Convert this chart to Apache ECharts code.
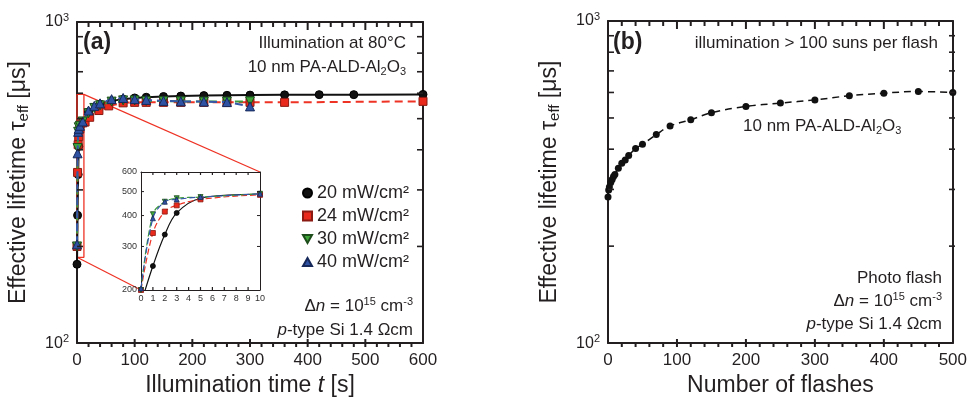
<!DOCTYPE html>
<html><head><meta charset="utf-8">
<script src="https://cdn.jsdelivr.net/npm/echarts@6/dist/echarts.min.js"></script>
<style>html,body{margin:0;padding:0;background:#fff}#c{width:970px;height:402px}</style>
</head><body><div id="c"></div>
<script>
const FONT = '"Liberation Sans", Arial, Helvetica, sans-serif';
const INK = '#231f20';

// ---------- Panel (a): illumination time series ----------
const seriesNames = ['20 mW/cm²', '24 mW/cm²', '30 mW/cm²', '40 mW/cm²'];
const tBlack = [0, 1, 2, 3, 5, 10, 20, 40, 60, 80, 100, 120, 150, 180, 220, 260, 300, 360, 420, 480, 600];
const tau20  = [176, 250, 335, 410, 470, 490, 525, 555, 568, 575, 580, 583, 586, 588, 590, 591, 592, 593, 594, 594, 595];
const tRed   = [0, 1, 2, 3, 5, 10, 14, 22, 38, 55, 80, 100, 120, 150, 180, 220, 260, 300, 360, 600];
const tau24  = [200, 340, 415, 440, 465, 485, 488, 505, 530, 548, 560, 562, 562, 562, 562, 562, 562, 562, 562, 566];
const tGB    = [0, 1, 2, 3, 5, 10, 20, 30, 40, 60, 80, 100, 120, 150, 180, 220, 260, 300];
const tau30  = [200, 405, 455, 470, 475, 490, 520, 540, 550, 565, 570, 570, 568, 567, 566, 565, 565, 566];
const tau40  = [203, 390, 455, 465, 475, 490, 530, 548, 558, 575, 580, 575, 572, 568, 566, 565, 563, 546];
const insetCount = 6; // points with t <= 10 s shown in the inset
const zoomT   = [0, 12];
const zoomTau = [185, 595];

// ---------- Panel (b): flashes ----------
const nFlash   = [0, 1, 2, 4, 6, 8, 10, 15, 20, 25, 30, 40, 50, 70, 90, 120, 150, 200, 250, 300, 350, 400, 450, 500];
const tauFlash = [284, 299, 305, 315, 322, 329, 334, 349, 362, 370, 382, 402, 414, 444, 472, 494, 519, 543, 556, 569, 586, 597, 604, 600];

// ---------- ticks ----------
const logTicks = [200, 300, 400, 500, 600, 700, 800, 900];
const insetTicks = [200, 300, 400, 500, 600];

// ---------- layout ----------
const GRID_A = { left: 77, top: 22, width: 346, height: 325 };
const GRID_I = { left: 141, top: 172, width: 119, height: 118 };
const GRID_B = { left: 608, top: 21, width: 347, height: 326 };

const zip = (xs, ys) => xs.map((x, i) => [x, ys[i]]);
function steps(from, to, step, skip) {
  const r = [];
  for (let v = from; v <= to + 1e-9; v += step) {
    if (!skip || Math.abs(v / skip - Math.round(v / skip)) > 1e-9) r.push(v);
  }
  return r;
}

const powLabel = v => {
  const e = Math.round(Math.log10(v));
  return '{b|10}{s|' + e + '}';
};
const powRich = {
  b: { fontSize: 16, fontFamily: FONT, color: INK },
  s: { fontSize: 11, fontFamily: FONT, color: INK, padding: [0, 0, 8, 0] }
};

function xAxisMain(gi, max, name, top) {
  return {
    type: 'value', gridIndex: gi, min: 0, max: max, interval: 100,
    position: top ? 'top' : 'bottom',
    axisLine: { show: true, onZero: false, lineStyle: { color: INK, width: 2 } },
    axisTick: { show: false },
    minorTick: { show: false },
    axisLabel: { show: !top, fontSize: 17, fontFamily: FONT, color: INK, margin: 9 },
    splitLine: { show: false },
    name: top ? '' : name, nameLocation: 'middle', nameGap: 30,
    nameTextStyle: { fontSize: 23, fontFamily: FONT, color: INK,
      rich: { i: { fontSize: 23, fontFamily: FONT, fontStyle: 'italic', color: INK } } }
  };
}
function yAxisMain(gi, right, withName) {
  return {
    type: 'log', logBase: 10, gridIndex: gi, min: 100, max: 1000,
    position: right ? 'right' : 'left',
    axisLine: { show: true, onZero: false, lineStyle: { color: INK, width: 2 } },
    axisTick: { show: false },
    axisLabel: { show: !right, formatter: powLabel, rich: powRich, margin: 8 },
    splitLine: { show: false },
    name: withName ? 'Effective lifetime τ{sub|eff} [μs]' : '',
    nameLocation: 'middle', nameGap: 46, nameRotate: 90,
    nameTextStyle: { fontSize: 23, fontFamily: FONT, color: INK,
      rich: { sub: { fontSize: 15, fontFamily: FONT, color: INK, padding: [10, 0, 0, 0] } } }
  };
}

const lineCommon = { type: 'line', animation: false, z: 3 };
const styles = [
  { color: '#111', border: '#000', symbol: 'circle', size: 8, rot: 0, dash: 'solid', lc: '#111' },
  { color: '#e8291c', border: '#8a1a12', symbol: 'rect', size: 8, rot: 0, dash: [8, 5], lc: '#ee3224' },
  { color: '#3fa63a', border: '#1c4d1a', symbol: 'triangle', size: 9, rot: 180, dash: [8, 5], lc: '#3a9a3a' },
  { color: '#2f52a3', border: '#16285a', symbol: 'triangle', size: 9, rot: 0, dash: [8, 5], lc: '#3457a8' }
];
const mainData = [zip(tBlack, tau20), zip(tRed, tau24), zip(tGB, tau30), zip(tGB, tau40)];

const series = [];
series.push(Object.assign({}, lineCommon, {
  xAxisIndex: 0, yAxisIndex: 0, symbol: 'none', silent: true, z: 2,
  data: [[zoomT[0], zoomTau[0]], [zoomT[1], zoomTau[0]], [zoomT[1], zoomTau[1]], [zoomT[0], zoomTau[1]], [zoomT[0], zoomTau[0]]],
  lineStyle: { color: '#ee3224', width: 1.3 }
}));
mainData.forEach((d, i) => {
  const s = styles[i];
  series.push(Object.assign({}, lineCommon, {
    name: seriesNames[i], xAxisIndex: 0, yAxisIndex: 0, data: d,
    symbol: s.symbol, symbolSize: s.size, symbolRotate: s.rot, z: 3 + i,
    itemStyle: { color: s.color, borderColor: s.border, borderWidth: 1 },
    lineStyle: { color: s.lc, width: 2, type: s.dash }
  }));
});
mainData.forEach((d, i) => {
  const s = styles[i];
  series.push(Object.assign({}, lineCommon, {
    name: seriesNames[i], xAxisIndex: 2, yAxisIndex: 2, data: d.slice(0, insetCount + 1),
    symbol: s.symbol, symbolSize: 5, symbolRotate: s.rot, smooth: 0.35, z: 10 + i,
    itemStyle: { color: s.color, borderColor: s.border, borderWidth: 0.8 },
    lineStyle: { color: s.lc, width: 1.2, type: i === 0 ? 'solid' : [6, 3] }
  }));
});
series.push(Object.assign({}, lineCommon, {
  name: 'flash', xAxisIndex: 4, yAxisIndex: 4, data: zip(nFlash, tauFlash),
  symbol: 'circle', symbolSize: 7, smooth: 0.4,
  itemStyle: { color: '#111' },
  lineStyle: { color: '#111', width: 1.5, type: [7, 5] }
}));

const insetAxisCommon = {
  axisLine: { show: true, onZero: false, lineStyle: { color: INK, width: 1 } },
  axisTick: { show: false },
  splitLine: { show: false }
};

const option = {
  animation: false,
  backgroundColor: '#fff',
  textStyle: { fontFamily: FONT },
  grid: [
    Object.assign({}, GRID_A),
    Object.assign({ show: true, backgroundColor: '#fff', borderWidth: 0, z: 5 }, GRID_I),
    Object.assign({}, GRID_B)
  ],
  xAxis: [
    xAxisMain(0, 600, 'Illumination time {i|t} [s]', false),
    xAxisMain(0, 600, '', true),
    Object.assign({}, insetAxisCommon, { type: 'value', gridIndex: 1, min: 0, max: 10, interval: 1, position: 'bottom', z: 6,
      axisLabel: { fontSize: 9, fontFamily: FONT, color: '#333', margin: 4 } }),
    Object.assign({}, insetAxisCommon, { type: 'value', gridIndex: 1, min: 0, max: 10, interval: 1, position: 'top', z: 6,
      axisLabel: { show: false } }),
    xAxisMain(2, 500, 'Number of flashes', false),
    xAxisMain(2, 500, '', true)
  ],
  yAxis: [
    yAxisMain(0, false, true),
    yAxisMain(0, true, false),
    Object.assign({}, insetAxisCommon, { type: 'log', logBase: 10, gridIndex: 1, min: 200, max: 600, position: 'left', z: 6,
      axisLabel: { customValues: insetTicks, fontSize: 9, fontFamily: FONT, color: '#333', margin: 4 } }),
    Object.assign({}, insetAxisCommon, { type: 'log', logBase: 10, gridIndex: 1, min: 200, max: 600, position: 'right', z: 6,
      axisLabel: { show: false } }),
    yAxisMain(2, false, true),
    yAxisMain(2, true, false)
  ],
  legend: {
    orient: 'vertical', left: 297, top: 179, itemWidth: 9, itemHeight: 9, itemGap: 5,
    textStyle: { fontSize: 18, lineHeight: 18, fontFamily: FONT, color: INK },
    selectedMode: false,
    data: [
      { name: seriesNames[0], icon: 'circle' },
      { name: seriesNames[1], icon: 'rect' },
      { name: seriesNames[2], icon: 'path://M0,0 L10,0 L5,9 Z' },
      { name: seriesNames[3], icon: 'path://M5,0 L10,9 L0,9 Z' }
    ]
  },
  series: series
};

const chart = echarts.init(document.getElementById('c'), null, { renderer: 'canvas' });
chart.setOption(option);

const txtRich = {
  i: { fontSize: 17, fontFamily: FONT, fontStyle: 'italic', fill: INK, color: INK },
  sup: { fontSize: 11, fontFamily: FONT, fill: INK, color: INK, padding: [0, 0, 9, 0] },
  sub: { fontSize: 11, fontFamily: FONT, fill: INK, color: INK, padding: [9, 0, 0, 0] },
  n: { fontSize: 17, fontFamily: FONT, fill: INK, color: INK }
};
function txt(x, y, text, align, opts) {
  return {
    type: 'text', x: x, y: y, z: 50,
    style: Object.assign({ text: text, fill: INK, fontSize: 17, fontFamily: FONT, align: align || 'right', verticalAlign: 'middle', rich: txtRich }, (opts || {}))
  };
}
const al2o3 = '{n|10 nm PA-ALD-Al}{sub|2}{n|O}{sub|3}';
const dn = '{n|Δ}{i|n}{n| = 10}{sup|15}{n| cm}{sup|-3}';
const ptype = '{i|p}{n|-type Si 1.4 Ωcm}';

const px = (xi, yi, pt) => chart.convertToPixel({ xAxisIndex: xi, yAxisIndex: yi }, pt);
const p1 = px(0, 0, [zoomT[1], zoomTau[1]]);
const p2 = px(2, 2, [10, 600]);
const p3 = px(0, 0, [zoomT[0], zoomTau[0]]);
const p4 = px(2, 2, [0, 200]);

function bar(x, y, w, h, z) {
  return { type: 'rect', z: z, zlevel: 0, silent: true, shape: { x: x, y: y, width: w, height: h }, style: { fill: INK, stroke: null } };
}
// inward y-axis ticks, placed through the axes' own scales
function yTicks(xi, yi, g, vals, len, w, z) {
  const out = [];
  vals.forEach(v => {
    const y = px(xi, yi, [1, v])[1];
    out.push(bar(g.left, y - w / 2, len, w, z));
    out.push(bar(g.left + g.width - len, y - w / 2, len, w, z));
  });
  return out;
}
// inward x-axis ticks (bottom and top), x placed through the x axis scale
function xTicks(xi, g, xmax, vals, len, w, z) {
  const out = [];
  vals.forEach(v => {
    let x = chart.convertToPixel({ xAxisIndex: xi }, v);
    if (Array.isArray(x)) x = x[0];
    if (typeof x !== 'number' || !isFinite(x)) x = g.left + g.width * v / xmax;
    out.push(bar(x - w / 2, g.top + g.height - len, w, len, z));
    out.push(bar(x - w / 2, g.top, w, len, z));
  });
  return out;
}

chart.setOption({
  graphic: [
    txt(83, 43, '(a)', 'left', { fontSize: 23, fontWeight: 'bold' }),
    txt(406, 43, 'Illumination at 80°C'),
    txt(406, 67, al2o3),
    txt(413, 306, dn),
    txt(413, 330, ptype),
    txt(613, 43, '(b)', 'left', { fontSize: 23, fontWeight: 'bold' }),
    txt(938, 43, 'illumination > 100 suns per flash'),
    txt(743, 126, al2o3, 'left'),
    txt(942, 278, 'Photo flash'),
    txt(942, 301, dn),
    txt(942, 324, ptype),
    { type: 'line', z: 1, silent: true, shape: { x1: p1[0], y1: p1[1], x2: p2[0], y2: p2[1] }, style: { stroke: '#ee3224', lineWidth: 1.2 } },
    { type: 'line', z: 1, silent: true, shape: { x1: p3[0], y1: p3[1], x2: p4[0], y2: p4[1] }, style: { stroke: '#ee3224', lineWidth: 1.2 } }
  ]
  .concat(yTicks(0, 0, GRID_A, logTicks, 6, 1.6, 20))
  .concat(yTicks(4, 4, GRID_B, logTicks, 6, 1.6, 20))
  .concat(yTicks(2, 2, GRID_I, insetTicks.slice(1, -1), 3, 1, 60))
  .concat(xTicks(0, GRID_A, 600, steps(100, 500, 100), 8, 2, 20))
  .concat(xTicks(0, GRID_A, 600, steps(20, 580, 20, 100), 5, 2, 20))
  .concat(xTicks(4, GRID_B, 500, steps(100, 400, 100), 8, 2, 20))
  .concat(xTicks(4, GRID_B, 500, steps(20, 480, 20, 100), 5, 2, 20))
  .concat(xTicks(2, GRID_I, 10, steps(1, 9, 1), 3, 1.2, 60))
});
</script>
</body></html>
